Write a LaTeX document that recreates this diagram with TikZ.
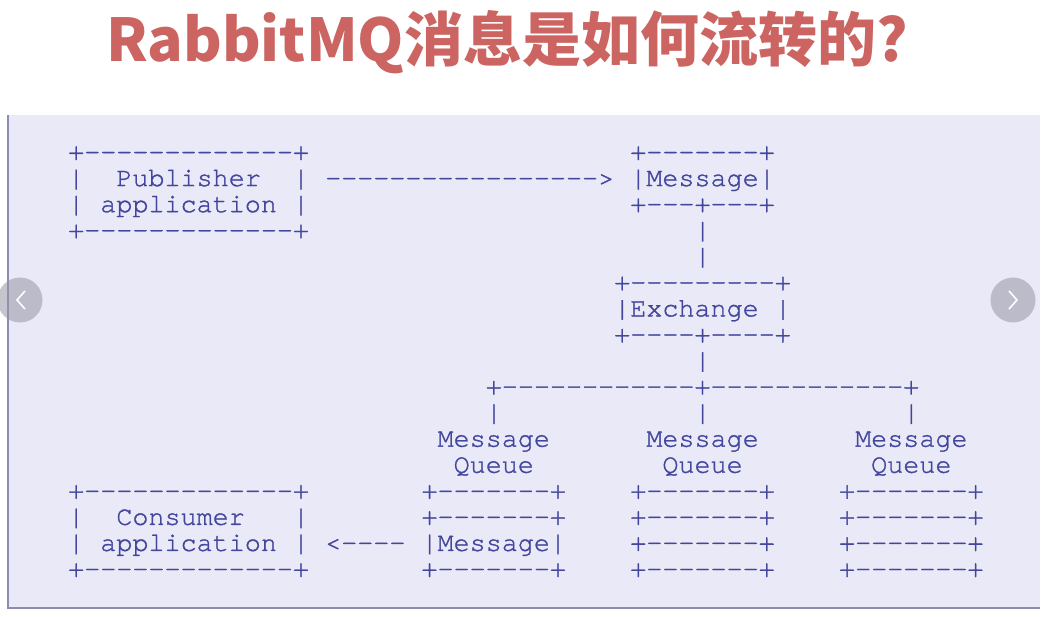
\documentclass[tikz,border=0pt]{standalone}
\usepackage{fontspec}
\setmonofont{texgyrecursor-regular.otf}[FakeBold=1.2]
\newfontfamily\cjk{Noto Sans CJK SC}
\definecolor{asciiblue}{RGB}{66,70,156}
\definecolor{titlered}{RGB}{204,100,98}
\definecolor{panelfill}{RGB}{233,233,247}
\definecolor{panelline}{RGB}{140,140,178}
\definecolor{navgray}{RGB}{150,150,165}
\tikzset{
  asc/.style={font=\ttfamily\fontsize{26.76}{26}\selectfont, text=asciiblue, inner sep=0pt, anchor=base west},
  nav/.style={circle, fill=navgray, fill opacity=0.55, minimum size=45pt, inner sep=0pt},
}
\begin{document}
\begin{tikzpicture}[x=1pt,y=-1pt]
    \useasboundingbox (0,0) rectangle (1052,617);
    \fill[white] (0,0) rectangle (1052,617);
    \fill[panelfill] (8,115) rectangle (1040,608);
    \draw[panelline, line width=2pt] (8,115) -- (8,608) -- (1040,608);
    \node[font=\cjk\bfseries\fontsize{59}{59}\selectfont, text=titlered, anchor=base] (title) at (507,62) {RabbitMQ消息是如何流转的?};
    \begin{scope}[shift={(68,160)}, x=16.06pt, y=-26.06pt]
        \foreach \r/\t in {0/{+-------------+},1/{|~~Publisher~~|},2/{|~application~|},3/{+-------------+}}{
            \node[asc] (pub\r) at (0,\r) {\t};
        }
        \foreach \r/\t in {13/{+-------------+},14/{|~~Consumer~~~|},15/{|~application~|},16/{+-------------+}}{
            \node[asc] (con\r) at (0,\r) {\t};
        }
        \node[asc] (pubarrow) at (16,1) {----------------->};
        \node[asc] (conarrow) at (16,15) {<----};
        \foreach \r/\t in {0/{+-------+},1/{|Message|},2/{+---+---+}}{
            \node[asc] (msg\r) at (35,\r) {\t};
        }
        \foreach \r in {3,4,8}{
            \node[asc] (bar\r) at (39,\r) {|};
        }
        \foreach \r/\t in {5/{+---------+},6/{|Exchange~|},7/{+----+----+}}{
            \node[asc] (ex\r) at (34,\r) {\t};
        }
        \node[asc] (fan) at (26,9) {+------------+------------+};
        \foreach \q/\c/\m in {1/22/{|Message|},2/35/{+-------+},3/48/{+-------+}}{
            \node[asc] (qbar\q) at (\c+4,10) {|};
            \node[asc] (qname\q) at (\c+1,11) {Message};
            \node[asc] (qsub\q) at (\c+2,12) {Queue};
            \foreach \r in {13,14,16}{
                \node[asc] (q\q-\r) at (\c,\r) {+-------+};
            }
            \node[asc] (q\q-15) at (\c,15) {\m};
        }
    \end{scope}
    \node[nav] (prev) at (20,300) {};
    \node[nav] (next) at (1013,300) {};
    \draw[white, line width=1.6pt] (25,291) -- (17,300) -- (25,309);
    \draw[white, line width=1.6pt] (1009,291) -- (1017,300) -- (1009,309);
\end{tikzpicture}
\end{document}
